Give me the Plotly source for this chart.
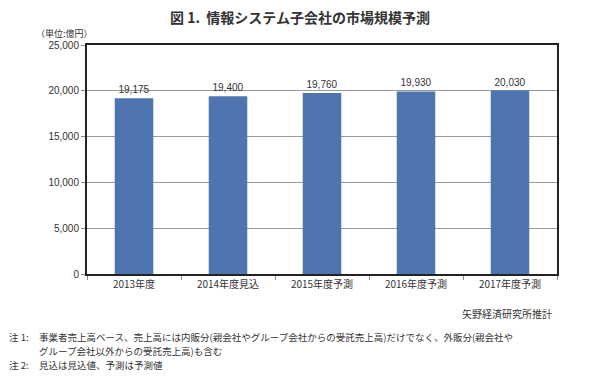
import plotly.graph_objects as go

categories = ["2013年度", "2014年度見込", "2015年度予測", "2016年度予測", "2017年度予測"]
values = [19175, 19400, 19760, 19930, 20030]
value_labels = ["19,175", "19,400", "19,760", "19,930", "20,030"]
y_ticks = [0, 5000, 10000, 15000, 20000, 25000]
y_tick_labels = ["0", "5,000", "10,000", "15,000", "20,000", "25,000"]

FONT = "Noto Sans CJK JP"
OFF = 8  # default page body margin
W, H = 600 - OFF, 381 - OFF
L, R, T, B = 87 - OFF, W - (557 - OFF), 45 - OFF, H - (274 - OFF)

fig = go.Figure()
fig.add_trace(go.Bar(
    x=categories, y=values, text=value_labels, textposition="outside",
    textfont=dict(size=10, color="#333333", family="Arial"),
    marker=dict(color="#4F75B0", line=dict(width=0)),
    width=0.41, cliponaxis=False,
))

fig.update_layout(
    width=W, height=H,
    margin=dict(l=L, r=R, t=T, b=B),
    paper_bgcolor="white", plot_bgcolor="white",
    showlegend=False,
    font=dict(family=FONT, color="#333333"),
    xaxis=dict(
        showline=True, linecolor="#222222", linewidth=2, mirror=True,
        ticks="outside", ticklen=4, tickcolor="#888888", tickson="boundaries",
        tickfont=dict(size=10, family=FONT, color="#333333"),
        showgrid=False,
    ),
    yaxis=dict(
        range=[0, 25000], tickvals=y_ticks, ticktext=y_tick_labels,
        showline=True, linecolor="#222222", linewidth=2, mirror=True,
        ticks="outside", ticklen=4, tickcolor="#888888",
        showgrid=True, gridcolor="#9a9a9a", gridwidth=1,
        tickfont=dict(size=10, family="Arial", color="#333333"),
        zeroline=False,
    ),
)

px_w = W - L - R
px_h = H - T - B

def add_px_text(text, x, y, xanchor="left", size=10):
    # x, y are screen pixel positions
    fx, fy = x - OFF, y - OFF
    fig.add_annotation(text=text, x=(fx - L) / px_w, y=(H - B - fy) / px_h,
                       xref="paper", yref="paper", showarrow=False,
                       xanchor=xanchor, yanchor="middle", align="left",
                       borderpad=0,
                       font=dict(size=size, family=FONT, color="#333333"))

add_px_text("<b>図 1.  情報システム子会社の市場規模予測</b>", 300, 17, xanchor="center", size=14)
add_px_text("（単位:億円）", 35, 33, size=9)
add_px_text("矢野経済研究所推計", 553, 313, xanchor="right", size=10)
add_px_text("注 1:", 8, 337, size=9.5)
add_px_text("事業者売上高ベース、売上高には内販分(親会社やグループ会社からの受託売上高)だけでなく、外販分(親会社や", 38, 337, size=9.5)
add_px_text("グループ会社以外からの受託売上高)も含む", 38, 351, size=9.5)
add_px_text("注 2:", 8, 365, size=9.5)
add_px_text("見込は見込値、予測は予測値", 38, 365, size=9.5)

fig.write_html("out.html")
